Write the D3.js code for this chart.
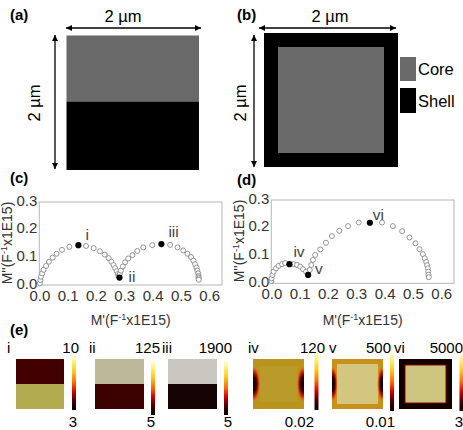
<!DOCTYPE html>
<html>
<head>
<meta charset="utf-8">
<script src="https://cdn.jsdelivr.net/npm/d3@7"></script>
<style>
  body { margin: 0; background: #fff; }
  svg { display: block; font-family: "Liberation Sans", Arial, sans-serif; }
</style>
</head>
<body>
<svg id="fig" width="463" height="430"></svg>
<script>
// ---- data ----
const xTicks = [0, 0.1, 0.2, 0.3, 0.4, 0.5, 0.6];
const yTicks = [0, 0.1, 0.2, 0.3];

// (c) open circles M' , M''
const cOpen = [
  [0.002,0.006],[0.004,0.018],[0.006,0.030],[0.010,0.042],[0.015,0.055],[0.024,0.069],
  [0.034,0.084],[0.047,0.099],[0.061,0.113],[0.080,0.127],[0.106,0.138],
  [0.165,0.141],[0.192,0.133],[0.214,0.122],[0.231,0.110],[0.245,0.097],[0.255,0.084],
  [0.262,0.072],[0.268,0.061],[0.273,0.050],[0.277,0.040],[0.280,0.032],
  [0.284,0.040],[0.288,0.052],[0.295,0.067],[0.303,0.082],[0.314,0.096],[0.329,0.108],
  [0.346,0.123],[0.367,0.136],[0.399,0.144],
  [0.462,0.145],[0.488,0.136],[0.508,0.125],[0.523,0.113],[0.536,0.101],[0.544,0.088],
  [0.550,0.075],[0.555,0.063],[0.558,0.052],[0.561,0.042],[0.562,0.033],[0.562,0.028],
  [0.563,0.024],[0.563,0.019]
];
const cFilled = [[0.138,0.144],[0.283,0.027],[0.431,0.148]];
const cNames = ["i", "ii", "iii"];

// (d)
const dOpen = [
  [0.000,0.008],[0.001,0.018],[0.004,0.030],[0.008,0.042],[0.017,0.054],[0.026,0.063],
  [0.038,0.069],[0.049,0.073],
  [0.079,0.069],[0.091,0.066],[0.102,0.060],[0.112,0.051],[0.123,0.042],
  [0.136,0.048],[0.141,0.066],[0.147,0.084],[0.155,0.102],[0.173,0.122],[0.193,0.146],
  [0.214,0.170],[0.240,0.189],[0.271,0.206],[0.309,0.219],
  [0.391,0.219],[0.429,0.206],[0.462,0.188],[0.488,0.165],[0.509,0.144],[0.523,0.123],
  [0.535,0.105],[0.542,0.090],[0.547,0.077],[0.550,0.065],[0.553,0.054],[0.554,0.042],
  [0.555,0.031],[0.556,0.022]
];
const dFilled = [[0.064,0.069],[0.130,0.030],[0.348,0.218]];
const dNames = ["iv", "v", "vi"];

// (e) maps
const eNames = ["i", "ii", "iii", "iv", "v", "vi"];
const eMax = ["10", "125", "1900", "120", "500", "5000"];
const eMin = ["3", "5", "5", "0.02", "0.01", "3"];

// ---- layout / style ----
const svg = d3.select("#fig");
const defs = svg.append("defs");

defs.append("marker")
  .attr("id", "ah").attr("viewBox", "0 0 10 10")
  .attr("refX", 10).attr("refY", 5)
  .attr("markerUnits", "userSpaceOnUse")
  .attr("markerWidth", 7).attr("markerHeight", 6)
  .attr("orient", "auto-start-reverse")
  .append("path").attr("d", "M0,0L10,5L0,10z").attr("fill", "#000");

function arrow(x1, y1, x2, y2) {
  svg.append("line")
    .attr("x1", x1).attr("y1", y1).attr("x2", x2).attr("y2", y2)
    .attr("stroke", "#000").attr("stroke-width", 1.3)
    .attr("marker-start", "url(#ah)").attr("marker-end", "url(#ah)");
}

function panelTag(x, y, t) {
  svg.append("text").attr("x", x).attr("y", y)
    .attr("font-size", 15).attr("font-weight", "bold").text(t);
}

// (a)
panelTag(10, 20, "(a)");
svg.append("text").attr("x", 123).attr("y", 22).attr("text-anchor", "middle")
  .attr("font-size", 16.5).text("2 µm");
arrow(66, 28, 201, 28);
arrow(55, 35, 55, 169);
svg.append("text").attr("transform", "translate(40,103) rotate(-90)")
  .attr("text-anchor", "middle").attr("font-size", 16.5).text("2 µm");
svg.append("rect").attr("x", 66.5).attr("y", 35.5).attr("width", 132.5).attr("height", 66)
  .attr("fill", "#696969");
svg.append("rect").attr("x", 66.5).attr("y", 101.5).attr("width", 132.5).attr("height", 68.5)
  .attr("fill", "#000");

// (b)
panelTag(237, 20, "(b)");
svg.append("text").attr("x", 330).attr("y", 22).attr("text-anchor", "middle")
  .attr("font-size", 16.5).text("2 µm");
arrow(259, 28, 396, 28);
arrow(254, 35, 254, 167);
svg.append("text").attr("transform", "translate(246,103) rotate(-90)")
  .attr("text-anchor", "middle").attr("font-size", 16.5).text("2 µm");
svg.append("rect").attr("x", 264).attr("y", 33).attr("width", 134).attr("height", 134).attr("fill", "#000");
svg.append("rect").attr("x", 278).attr("y", 47).attr("width", 106).attr("height", 106).attr("fill", "#6a6a6a");
svg.append("rect").attr("x", 400).attr("y", 57).attr("width", 16).attr("height", 24).attr("fill", "#6a6a6a");
svg.append("rect").attr("x", 400).attr("y", 88).attr("width", 16).attr("height", 25).attr("fill", "#000");
svg.append("text").attr("x", 418).attr("y", 75).attr("font-size", 16.5).text("Core");
svg.append("text").attr("x", 418).attr("y", 107).attr("font-size", 16.5).text("Shell");

// (c) and (d) modulus plots
function mLabel(g, prime) {
  g.append("tspan").text("M" + prime + "(F");
  g.append("tspan").attr("font-size", 9).attr("dy", -5).text("-1");
  g.append("tspan").attr("dy", 5).text("x1E15)");
}

function modulusPlot(open, filled, names, box, nameOff, yLab) {
  const g = svg.append("g");
  const x = d3.scaleLinear().domain([0, 0.645]).range([box.l, box.r]);
  const y = d3.scaleLinear().domain([0, 0.3]).range([box.b, box.t]);

  g.append("rect").attr("x", box.l).attr("y", box.t)
    .attr("width", box.r - box.l).attr("height", box.b - box.t)
    .attr("fill", "none").attr("stroke", "#b5b5b5").attr("stroke-width", 1);

  const ax = g.append("g").attr("transform", `translate(0,${box.b})`)
    .call(d3.axisBottom(x).tickValues(xTicks).tickFormat(d3.format(".1f"))
      .tickSize(0).tickPadding(5));
  const ay = g.append("g").attr("transform", `translate(${box.l},0)`)
    .call(d3.axisLeft(y).tickValues(yTicks).tickFormat(d3.format(".1f"))
      .tickSize(0).tickPadding(2));
  [ax, ay].forEach(a => {
    a.select(".domain").remove();
    a.selectAll("text").attr("font-size", 15).attr("fill", "#333")
      .attr("font-family", "'Liberation Sans', Arial, sans-serif");
  });
  ay.selectAll("text").attr("dy", "0.2em");

  g.selectAll("circle.o").data(open).join("circle").attr("class", "o")
    .attr("cx", d => x(d[0])).attr("cy", d => y(d[1])).attr("r", 2.5)
    .attr("fill", "#fff").attr("stroke", "#888").attr("stroke-width", 0.9);
  g.selectAll("circle.f").data(filled).join("circle").attr("class", "f")
    .attr("cx", d => x(d[0])).attr("cy", d => y(d[1])).attr("r", 3.1)
    .attr("fill", "#000");
  g.selectAll("text.n").data(filled).join("text").attr("class", "n")
    .attr("x", (d, i) => x(d[0]) + nameOff[i][0])
    .attr("y", (d, i) => y(d[1]) + nameOff[i][1])
    .attr("font-size", 15.5).attr("fill", "#444")
    .text((d, i) => names[i]);

  const xl = g.append("text").attr("x", (box.l + box.r) / 2).attr("y", 325)
    .attr("text-anchor", "middle").attr("font-size", 14).attr("fill", "#333");
  mLabel(xl, "'");
  const yl = g.append("text").attr("transform", `translate(${yLab[0]},${yLab[1]}) rotate(-90)`)
    .attr("text-anchor", "middle").attr("font-size", 14).attr("fill", "#333");
  mLabel(yl, "''");
}

panelTag(10, 183, "(c)");
modulusPlot(cOpen, cFilled, cNames, {l: 39.3, r: 222, t: 202, b: 285},
  [[7, -5], [9, 4], [7, -7]], [12, 243]);
panelTag(237, 185, "(d)");
modulusPlot(dOpen, dFilled, dNames, {l: 271.3, r: 454, t: 200, b: 283.3},
  [[4, -7], [7, -1], [3, -3]], [244, 241]);

// (e) field maps with colour bars
panelTag(10, 335, "(e)");

const hot = defs.append("linearGradient").attr("id", "hot")
  .attr("x1", 0).attr("y1", 0).attr("x2", 0).attr("y2", 1);
[[0, "#ffffd8"], [0.12, "#fff27a"], [0.3, "#ffc81a"], [0.5, "#ff6a00"],
 [0.66, "#d80000"], [0.82, "#500000"], [1, "#000"]]
  .forEach(s => hot.append("stop").attr("offset", s[0]).attr("stop-color", s[1]));

const spot = defs.append("radialGradient").attr("id", "spot");
[[0, "#0a0000", 1], [0.35, "#3a0000", 1], [0.6, "#c41800", 0.95], [0.82, "#dc7a10", 0.6], [1, "#d89a20", 0]]
  .forEach(s => spot.append("stop").attr("offset", s[0]).attr("stop-color", s[1]).attr("stop-opacity", s[2]));

const sqX = [16, 95, 168, 253, 332, 399];
const sqW = [48, 49, 49, 51, 51, 53];
const sqY = 359, sqH = 50;
const cbX = [72, 151, 224, 314.5, 390, 459.5];
const cbT = [355, 361, 361, 352, 353, 353];
const cbB = [410, 415, 415, 410, 411, 411];
const nameX = [7, 89, 162, 248, 329, 394];
const maxX = [79, 160, 232, 325, 391, 463];
const minX = [77, 155, 232, 314, 395, 463];

const mapStyle = [
  {kind: "split", top: "#420000", bottom: "#b3ab50"},
  {kind: "split", top: "#bdb899", bottom: "#3c0202"},
  {kind: "split", top: "#c9c7c0", bottom: "#160303"},
  {kind: "frame", outer: "#b8941c", inner: "#b99b2c", inset: 7, spot: 7},
  {kind: "frame", outer: "#c8911c", inner: "#d3c67e", inset: 5, spot: 5},
  {kind: "frame", outer: "#150000", inner: "#cec57e", inset: 6, line: "#7a0a00"}
];

eNames.forEach((nm, i) => {
  const g = svg.append("g");
  const s = mapStyle[i];
  const x0 = sqX[i], w = sqW[i];
  defs.append("clipPath").attr("id", "clip" + i)
    .append("rect").attr("x", x0).attr("y", sqY).attr("width", w).attr("height", sqH);
  const m = g.append("g").attr("clip-path", `url(#clip${i})`);
  if (s.kind === "split") {
    m.append("rect").attr("x", x0).attr("y", sqY).attr("width", w).attr("height", sqH / 2).attr("fill", s.top);
    m.append("rect").attr("x", x0).attr("y", sqY + sqH / 2).attr("width", w).attr("height", sqH / 2).attr("fill", s.bottom);
  } else {
    m.append("rect").attr("x", x0).attr("y", sqY).attr("width", w).attr("height", sqH).attr("fill", s.outer);
    m.append("rect").attr("x", x0 + s.inset).attr("y", sqY + s.inset)
      .attr("width", w - 2 * s.inset).attr("height", sqH - 2 * s.inset)
      .attr("fill", s.inner)
      .attr("stroke", s.line || "none").attr("stroke-width", 1);
    if (s.spot) {
      [x0 + 1, x0 + w - 1].forEach(cx => {
        m.append("ellipse").attr("cx", cx).attr("cy", sqY + sqH / 2)
          .attr("rx", s.spot).attr("ry", sqH * 0.4).attr("fill", "url(#spot)");
      });
    }
  }
  g.append("rect").attr("x", cbX[i]).attr("y", cbT[i]).attr("width", 4)
    .attr("height", cbB[i] - cbT[i]).attr("fill", "url(#hot)");
  g.append("text").attr("x", nameX[i]).attr("y", 353).attr("font-size", 15).text(nm);
  g.append("text").attr("x", maxX[i]).attr("y", 353).attr("text-anchor", "end")
    .attr("font-size", 15).text(eMax[i]);
  g.append("text").attr("x", minX[i]).attr("y", 427).attr("text-anchor", "end")
    .attr("font-size", 15).text(eMin[i]);
});
</script>
</body>
</html>
